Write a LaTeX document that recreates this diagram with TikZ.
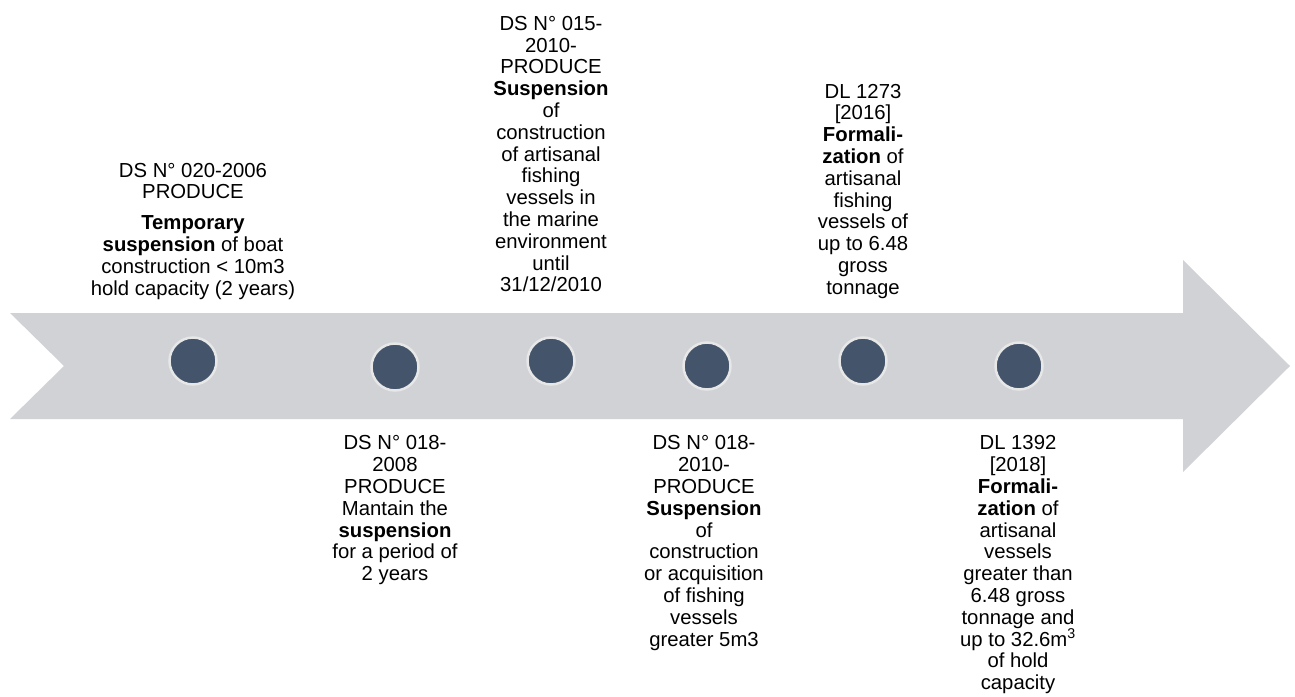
\documentclass[tikz,border=0pt]{standalone}
\usepackage{fontspec}
\setmainfont{Liberation Sans}
\definecolor{band}{HTML}{D0D2D6}
\definecolor{slate}{HTML}{44546A}
\definecolor{ring}{HTML}{E7E7E7}
\tikzstyle{every node}=[inner sep=0pt,align=center,font=\fontsize{20.3}{21.8}\selectfont]
\tikzstyle{dot}=[circle,draw=ring,line width=2.5pt,fill=slate,minimum size=47pt]
\tikzstyle{uptext}=[anchor=north]
\tikzstyle{downtext}=[anchor=north]

\begin{document}
\begin{tikzpicture}[x=1pt,y=-1pt]
    \useasboundingbox (0,0) rectangle (1295,696);
    \fill[band] (10,313) -- (1183,313) -- (1183,260) -- (1290,366)
        -- (1183,472) -- (1183,419) -- (10,419) -- (64,366) -- cycle;
    \node[dot] (d1) at (193,361) {};
    \node[dot] (d2) at (395,367) {};
    \node[dot] (d3) at (551,361) {};
    \node[dot] (d4) at (707,366) {};
    \node[dot] (d5) at (863,361) {};
    \node[dot] (d6) at (1019,366) {};
    \node[uptext] (t1) at (193,162.8) {DS N° 020-2006\\PRODUCE\\[9pt]
        \textbf{Temporary}\\\textbf{suspension} of boat\\construction < 10m3\\hold capacity (2 years)};
    \node[downtext] (t2) at (395,435.5) {DS N° 018-\\2008\\PRODUCE\\Mantain the\\
        \textbf{suspension}\\for a period of\\2 years};
    \node[uptext] (t3) at (551,16) {DS N° 015-\\2010-\\PRODUCE\\\textbf{Suspension}\\of\\
        construction\\of artisanal\\fishing\\vessels in\\the marine\\environment\\until\\31/12/2010};
    \node[downtext] (t4) at (704,435.5) {DS N° 018-\\2010-\\PRODUCE\\\textbf{Suspension}\\of\\
        construction\\or acquisition\\of fishing\\vessels\\greater 5m3};
    \node[uptext] (t5) at (863,83.8) {DL 1273\\{[2016]}\\\textbf{Formali-}\\\textbf{zation} of\\
        artisanal\\fishing\\vessels of\\up to 6.48\\gross\\tonnage};
    \node[downtext] (t6) at (1018,435.5) {DL 1392\\{[2018]}\\\textbf{Formali-}\\\textbf{zation} of\\
        artisanal\\vessels\\greater than\\6.48 gross\\tonnage and\\up to 32.6m\textsuperscript{3}\\
        of hold\\capacity};
\end{tikzpicture}
\end{document}
